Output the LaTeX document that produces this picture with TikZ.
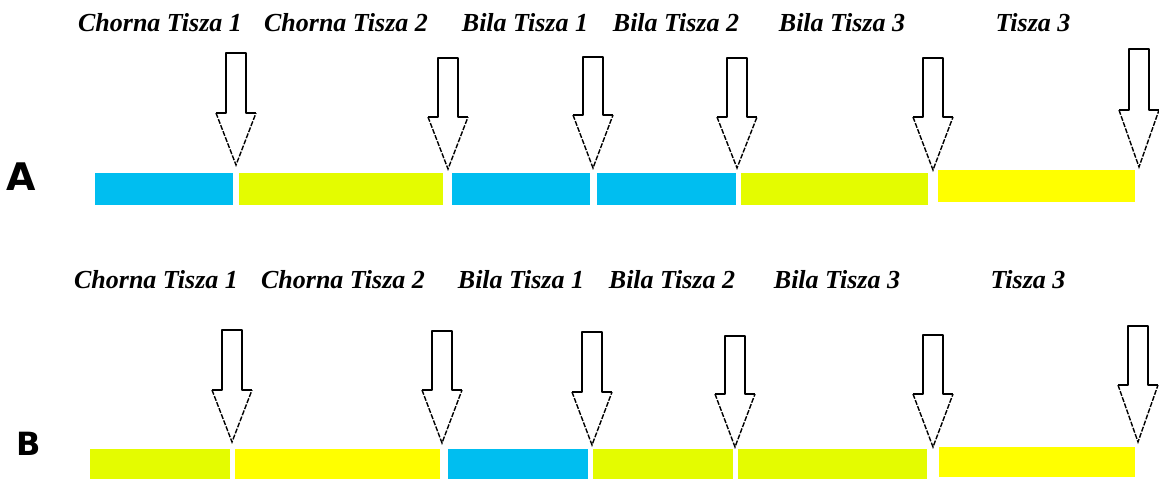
\documentclass[tikz,border=0pt]{standalone}
\usepackage{fontspec}
\setmainfont{Liberation Serif}
\newfontfamily\panelfont{DejaVu Sans}
\definecolor{cyanbar}{RGB}{0,190,240}
\definecolor{limebar}{RGB}{228,252,0}
\definecolor{yellowbar}{RGB}{255,255,0}
\tikzset{
  sitelabel/.style={anchor=base, inner sep=0pt, font=\fontsize{26}{30}\selectfont\bfseries\itshape},
  panellabel/.style={inner sep=0pt, font=\panelfont\bfseries},
  shaftline/.style={draw=black, line width=1.8pt, line join=round},
  headline/.style={draw=black, line width=1.4pt, dash pattern=on 5pt off 1.5pt},
}
\newcommand\sitearrow[4]{% centre x, top y, head base y, tip y
  \draw[shaftline] (#1-20,#3) -- (#1-10,#3) -- (#1-10,#2) -- (#1+10,#2) -- (#1+10,#3) -- (#1+20,#3);
  \draw[headline] (#1-20,#3) -- (#1,#4) -- (#1+20,#3);
}
\begin{document}
\begin{tikzpicture}[x=1pt,y=-1pt]
\useasboundingbox (0,0) rectangle (1159,482);

% ---------- Panel A ----------
\node[panellabel, font=\panelfont\bfseries\fontsize{38}{38}\selectfont] (A) at (21.5,177) {A};
\node[sitelabel] (a1) at (160,31) {Chorna Tisza 1};
\node[sitelabel] (a2) at (346,31) {Chorna Tisza 2};
\node[sitelabel] (a3) at (525,31) {Bila Tisza 1};
\node[sitelabel] (a4) at (676,31) {Bila Tisza 2};
\node[sitelabel] (a5) at (842,31) {Bila Tisza 3};
\node[sitelabel] (a6) at (1033,31) {Tisza 3};

\fill[cyanbar]   (95,173) rectangle (233,205);
\fill[limebar]   (239,173) rectangle (443,205);
\fill[cyanbar]   (452,173) rectangle (590,205);
\fill[cyanbar]   (597,173) rectangle (736,205);
\fill[limebar]   (741,173) rectangle (928,205);
\fill[yellowbar] (938,170) rectangle (1135,202);

\sitearrow{236}{53}{113}{165}
\sitearrow{448}{58}{117}{169}
\sitearrow{593}{57}{115}{168}
\sitearrow{737}{58}{117}{168}
\sitearrow{933}{58}{117}{170}
\sitearrow{1139}{49}{110}{167}

% ---------- Panel B ----------
\node[panellabel, font=\panelfont\bfseries\fontsize{32}{32}\selectfont] (B) at (28.5,444) {B};
\node[sitelabel] (b1) at (156,288) {Chorna Tisza 1};
\node[sitelabel] (b2) at (343,288) {Chorna Tisza 2};
\node[sitelabel] (b3) at (521,288) {Bila Tisza 1};
\node[sitelabel] (b4) at (672,288) {Bila Tisza 2};
\node[sitelabel] (b5) at (837,288) {Bila Tisza 3};
\node[sitelabel] (b6) at (1028,288) {Tisza 3};

\fill[limebar]   (90,449) rectangle (230,479);
\fill[yellowbar] (235,449) rectangle (440,479);
\fill[cyanbar]   (448,449) rectangle (588,479);
\fill[limebar]   (593,449) rectangle (733,479);
\fill[limebar]   (738,449) rectangle (927,479);
\fill[yellowbar] (939,447) rectangle (1135,477);

\sitearrow{232}{330}{390}{442}
\sitearrow{442}{331}{390}{443}
\sitearrow{592}{332}{392}{445}
\sitearrow{735}{336}{394}{447}
\sitearrow{933}{335}{394}{447}
\sitearrow{1138}{326}{385}{442}
\end{tikzpicture}
\end{document}
